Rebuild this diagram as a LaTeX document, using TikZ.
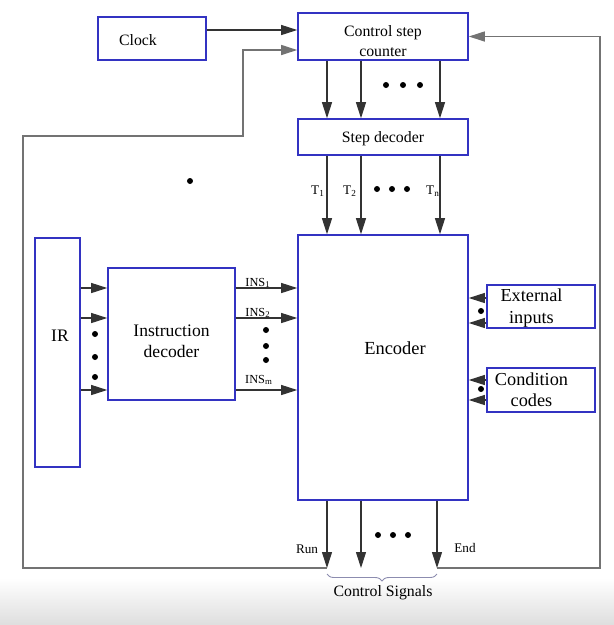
\documentclass[tikz,border=0pt]{standalone}
\usepackage{fontspec}
\setmainfont{Liberation Serif}
\usetikzlibrary{arrows.meta, positioning, decorations.pathreplacing}

\begin{document}
\begin{tikzpicture}[
    x=0.2mm, y=-0.2mm,
    box/.style={draw=blue!70!black!80, line width=0.9pt, inner sep=0pt},
    boxtext/.style={align=center, font=\fontsize{9}{11}\selectfont},
    lbl/.style={inner sep=0pt, font=\fontsize{7.5}{8}\selectfont},
    wire/.style={draw=black!80, line width=0.6pt},
    >={Triangle[length=3.2mm, width=2mm]}
]
\useasboundingbox (0,0) rectangle (614,625);
\shade[top color=white, bottom color=black!13] (0,578) rectangle (614,625);

\node (clock)   at (152,38.5)  [box, minimum width=21.6mm, minimum height=8.6mm,
    label={[boxtext, xshift=-2.8mm, yshift=-0.3mm]center:Clock}] {};
\node (counter) at (383,36.5)  [box, minimum width=34mm, minimum height=9.4mm,
    label={[boxtext, yshift=-0.9mm]center:Control step\\counter}] {};
\node (stepdec) at (383,137)   [box, minimum width=34mm, minimum height=7.2mm,
    label={[boxtext, yshift=-0.3mm]center:Step decoder}] {};
\node (encoder) at (383,367.5) [box, minimum width=34mm, minimum height=53mm,
    label={[boxtext, font=\fontsize{10.5}{12}\selectfont, xshift=2.4mm, yshift=3.9mm]center:Encoder}] {};
\node (ir)      at (57.5,352.5) [box, minimum width=9mm, minimum height=45.8mm,
    label={[boxtext, font=\fontsize{10}{12}\selectfont, xshift=0.5mm, yshift=3.3mm]center:IR}] {};
\node (insdec)  at (171.5,334) [box, minimum width=25.4mm, minimum height=26.4mm,
    label={[boxtext, font=\fontsize{10}{12}\selectfont, yshift=-1.4mm]center:Instruction\\decoder}] {};
\node (extin)   at (541,306.5) [box, minimum width=21.6mm, minimum height=8.6mm,
    label={[boxtext, font=\fontsize{10.4}{12.5}\selectfont, xshift=-1.9mm, yshift=-0.4mm]center:External\\inputs}] {};
\node (cond)    at (541,390)   [box, minimum width=21.6mm, minimum height=8.8mm,
    label={[boxtext, font=\fontsize{10.4}{12}\selectfont, xshift=-1.9mm]center:Condition\\codes}] {};

\coordinate (runend) at (327,568);
\coordinate (endend) at (437,568);

% clock and counter
\draw[wire, ->] (clock.east |- 0,30) -- (counter.west |- 0,30);
\foreach \x in {327,361,440}
    \draw[wire, ->] (counter.south -| \x,0) -- (stepdec.north -| \x,0);
\foreach \x in {327,361,440}
    \draw[wire, ->] (stepdec.south -| \x,0) -- (encoder.north -| \x,0);

% IR and instruction decoder
\foreach \y in {288,318,390} {
    \draw[wire, ->] (ir.east |- 0,\y) -- (insdec.west |- 0,\y);
    \draw[wire, ->] (insdec.east |- 0,\y) -- (encoder.west |- 0,\y);
}

% inputs on the right
\foreach \y in {298,323}
    \draw[wire, ->] (extin.west |- 0,\y) -- (encoder.east |- 0,\y);
\foreach \y in {380,400}
    \draw[wire, ->] (cond.west |- 0,\y) -- (encoder.east |- 0,\y);

% outputs and feedback
\draw[wire, ->] (encoder.south -| runend) -- (runend);
\draw[wire, ->] (encoder.south -| 361,0) -- (361,568);
\draw[wire, ->] (encoder.south -| endend) -- (endend);
\draw[draw=black!55, line width=0.7pt, ->] (runend) -- (23,568) |- (243,136) |- (counter.west |- 0,50);
\draw[draw=black!55, line width=0.7pt, ->] (endend) -- (600,568) |- (counter.east);

% labels
\node (t1)   at (318,191) [lbl] {T\textsubscript{1}};
\node (t2)   at (350,191) [lbl] {T\textsubscript{2}};
\node (tn)   at (433,191) [lbl] {T\textsubscript{n}};
\node (ins1) at (258,283) [lbl, font=\fontsize{7}{8}\selectfont] {INS\textsubscript{1}};
\node (ins2) at (258,313) [lbl, font=\fontsize{7}{8}\selectfont] {INS\textsubscript{2}};
\node (insm) at (259,380) [lbl, font=\fontsize{7}{8}\selectfont] {INS\textsubscript{m}};
\node (run)  at (307,549) [lbl] {Run};
\node (end)  at (465,548) [lbl] {End};

\draw[draw=blue!30!black!45, line width=0.5pt, decorate, decoration={brace, mirror, amplitude=1.4mm}]
    (327,574) -- (437,574);
\node (signals) at (383,593) [lbl, font=\fontsize{9}{10}\selectfont] {Control Signals};

% dots
\foreach \x in {386,403,420} \fill (\x,85) circle (3);
\foreach \x in {377,392,407} \fill (\x,189) circle (3);
\foreach \x in {378,393,408} \fill (\x,535) circle (3);
\foreach \y in {334,357,377} \fill (95,\y) circle (3);
\foreach \y in {330,346,360} \fill (266,\y) circle (3);
\fill (481,311) circle (3);
\fill (481,389) circle (3);
\fill (190,181) circle (3);
\end{tikzpicture}
\end{document}
